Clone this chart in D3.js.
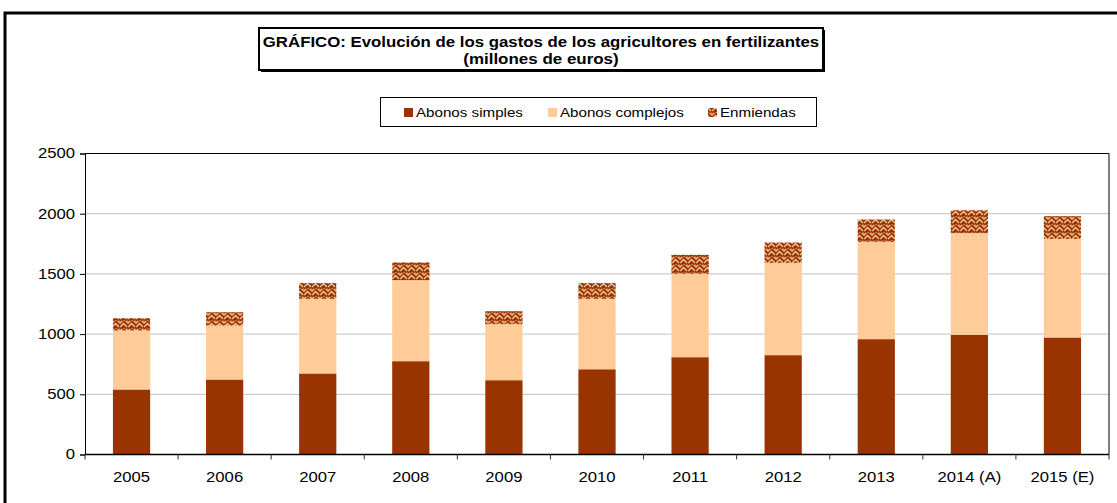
<!DOCTYPE html>
<html><head><meta charset="utf-8">
<script src="https://cdn.jsdelivr.net/npm/d3@7"></script>
<style>
html,body{margin:0;padding:0;background:#fff;}
svg{display:block;}
text{font-family:"Liberation Sans",Arial,sans-serif;fill:#000;}
</style></head>
<body>
<svg id="c" width="1117" height="503"></svg>
<script>
const categories = ["2005","2006","2007","2008","2009","2010","2011","2012","2013","2014 (A)","2015 (E)"];
const abonosSimples   = [540, 623, 673, 775, 617, 708, 808, 825, 958, 994, 972];
const abonosComplejos = [490, 448, 620, 673, 465, 585, 692, 767, 808, 844, 819];
const enmiendas       = [102, 111, 132, 147, 108, 132, 158, 169, 186, 191, 189];
const yTicks = [0, 500, 1000, 1500, 2000, 2500];
const seriesNames = ["Abonos simples", "Abonos complejos", "Enmiendas"];
const titleLines = ["GRÁFICO: Evolución de los gastos de los agricultores en fertilizantes", "(millones de euros)"];

const svg = d3.select("#c");
const defs = svg.append("defs");
const pat = defs.append("pattern").attr("id","enm").attr("patternUnits","userSpaceOnUse")
  .attr("width",8).attr("height",8);
pat.append("rect").attr("width",8).attr("height",8).attr("fill","#993300");
pat.append("path").attr("d","M0,7 L3.5,3.5 L7,7 M-1,0 L0,-1 M7,-1 L8,0 M0,3 L2,1 M6,1 L8,3")
  .attr("stroke","#f4c096").attr("stroke-width",1.5).attr("fill","none");
pat.append("path").attr("d","M4,0 L8,4 M0,4 L4,0").attr("stroke","#d98a55").attr("stroke-width",0.8).attr("fill","none");

const colors = ["#993300", "#FFCC99", "url(#enm)"];

// outer frame
svg.append("rect").attr("x",5).attr("y",13).attr("width",1300).attr("height",700)
  .attr("fill","none").attr("stroke","#000").attr("stroke-width",3);

// title box with shadow
svg.append("rect").attr("x",261).attr("y",30).attr("width",564).attr("height",42).attr("fill","#000");
svg.append("rect").attr("x",259).attr("y",28).attr("width",564).attr("height",42)
  .attr("fill","#fff").attr("stroke","#000").attr("stroke-width",2);
svg.append("text").attr("class","st").attr("data-k",1.12).attr("x",541).attr("y",47).attr("text-anchor","middle")
  .style("font-weight","bold").style("font-size","15px").text(titleLines[0]);
svg.append("text").attr("class","st").attr("data-k",1.13).attr("x",541).attr("y",64).attr("text-anchor","middle")
  .style("font-weight","bold").style("font-size","15px").text(titleLines[1]);

// legend
svg.append("rect").attr("x",380.5).attr("y",97.5).attr("width",436).attr("height",29)
  .attr("fill","#fff").attr("stroke","#000").attr("stroke-width",1);
const legX = [404, 548, 708];
seriesNames.forEach((n,i)=>{
  svg.append("rect").attr("x",legX[i]).attr("y",108).attr("width",9).attr("height",9).attr("fill",colors[i]);
  svg.append("text").attr("class","st").attr("data-k",1.165).attr("x",legX[i]+12).attr("y",117)
    .style("font-size","13px").text(n);
});

// plot
const x0 = 85, x1 = 1109, yTop = 153.5, yBot = 454.5;
const x = d3.scaleBand().domain(categories).range([x0,x1]).paddingInner(0.6).paddingOuter(0.3);
const y = d3.scaleLinear().domain([0,2500]).range([yBot,yTop]);

// gridlines
svg.append("g").selectAll("line").data(yTicks.filter(t=>t>0 && t<2500)).join("line")
  .attr("x1",x0).attr("x2",x1).attr("y1",d=>y(d)).attr("y2",d=>y(d))
  .attr("stroke","#c0c0c0").attr("stroke-width",1);

// stacked bars
const table = categories.map((c,i)=>({cat:c, s:abonosSimples[i], c2:abonosComplejos[i], e:enmiendas[i]}));
const stack = d3.stack().keys(["s","c2","e"])(table);
svg.append("g").selectAll("g").data(stack).join("g").attr("fill",(d,i)=>colors[i])
  .selectAll("rect").data(d=>d).join("rect")
  .attr("x",d=>x(d.data.cat)).attr("width",x.bandwidth())
  .attr("y",d=>y(d[1])).attr("height",d=>y(d[0])-y(d[1]));

// plot border top/right
svg.append("path").attr("d",`M${x0},${yTop}H${x1}V${yBot}`).attr("fill","none").attr("stroke","#000").attr("stroke-width",1);

// y axis
const yAxis = svg.append("g").attr("transform",`translate(${x0},0)`)
  .call(d3.axisLeft(y).tickValues(yTicks).tickSize(5).tickPadding(5).tickFormat(d3.format("d")));
yAxis.selectAll("text").attr("class","st").attr("data-k",1.19).style("font-size","14px")
  .style("font-family","'Liberation Sans',Arial,sans-serif").attr("fill","#000");
yAxis.selectAll("line,path").attr("stroke","#000");

// x axis with ticks at band boundaries
const xa = svg.append("g").attr("transform",`translate(0,${yBot})`);
xa.append("line").attr("x1",x0).attr("x2",x1).attr("stroke","#000").attr("stroke-width",1.5);
const bounds = d3.range(categories.length+1).map(i=>x0 + i*x.step());
xa.selectAll("line.tk").data(bounds).join("line").attr("class","tk")
  .attr("x1",d=>d).attr("x2",d=>d).attr("y1",0).attr("y2",5).attr("stroke","#333");
xa.selectAll("text").data(categories).join("text").attr("class","st").attr("data-k",1.19)
  .attr("x",d=>x(d)+x.bandwidth()/2).attr("y",27).attr("text-anchor","middle")
  .style("font-size","14px").text(d=>d);

// stretch texts horizontally to match reference proportions
svg.selectAll("text.st").each(function(){
  const k = +this.getAttribute("data-k");
  if (k && k !== 1) {
    const len = this.getComputedTextLength();
    this.setAttribute("textLength", len*k);
    this.setAttribute("lengthAdjust","spacingAndGlyphs");
  }
});
</script>
</body></html>
